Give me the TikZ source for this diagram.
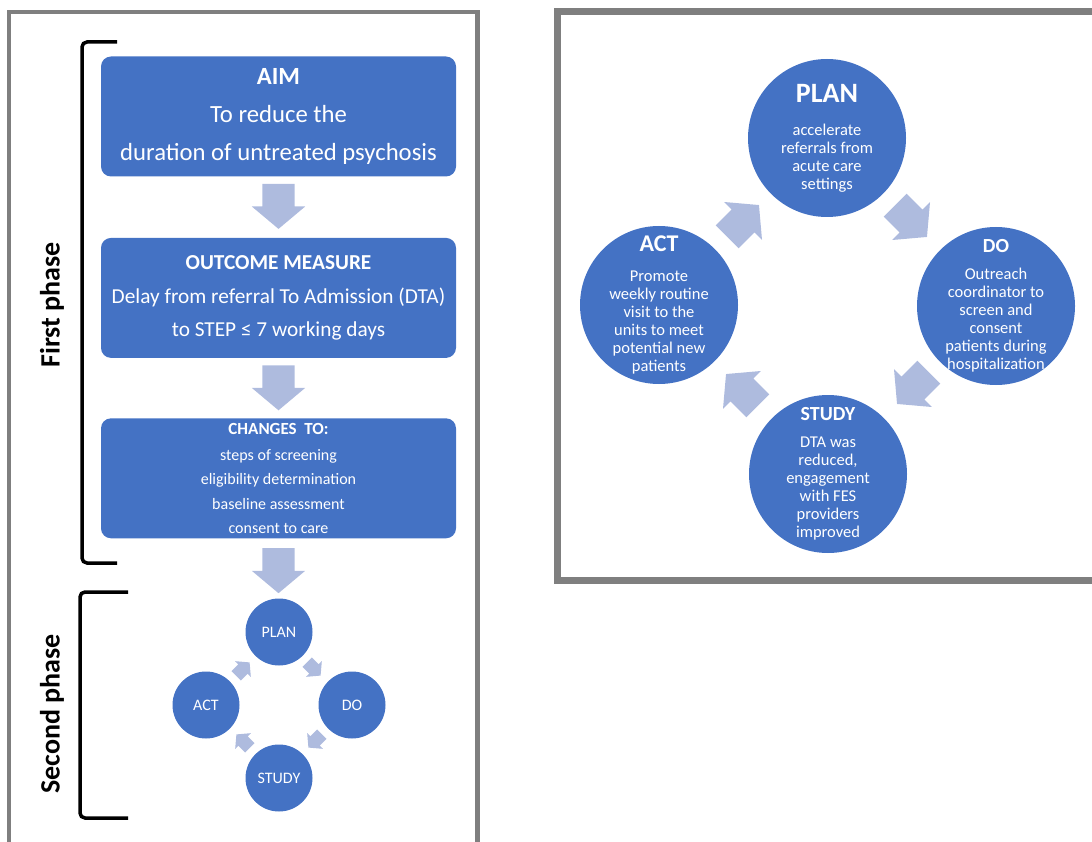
\documentclass[tikz,border=0pt]{standalone}
\usepackage{fontspec}
\setmainfont{Carlito}
\usetikzlibrary{shapes.arrows, positioning, calc}
\definecolor{boxblue}{RGB}{68,114,196}
\definecolor{arrowblue}{RGB}{174,187,222}
\definecolor{framegray}{RGB}{127,127,127}
\def \DUP {duration of untreated psychosis}

\begin{document}
\begin{tikzpicture}[
	  x=1pt, y=-1pt,
	  frame/.style={draw=framegray, line width=4.5pt},
	  bracket/.style={draw=black, line width=3.5pt, rounded corners=5pt},
	  phase/.style={rotate=90, font=\fontsize{28}{30}\selectfont\bfseries},
	  stepbox/.style={
	  	rectangle,
	  	fill=boxblue,
	  	text=white,
	  	rounded corners=10pt,
	  	align=center,
	  	minimum width=355pt,
	  	minimum height=120pt,
	  	inner sep=0pt
	  },
	  flowarrow/.style={
		  single arrow,
		  fill=arrowblue,
		  anchor=tail,
		  inner xsep=0pt,
		  inner ysep=16pt,
		  minimum height=45pt,
		  single arrow head extend=10.5pt,
		  single arrow tip angle=100
	  },
	  miniarrow/.style={
		  flowarrow,
		  inner ysep=6.5pt,
		  minimum height=19pt,
		  single arrow head extend=4.5pt
	  },
	  minicircle/.style={
		  circle,
		  fill=boxblue,
		  text=white,
		  minimum size=67pt,
		  inner sep=0pt,
		  font=\fontsize{16}{18}\selectfont
	  },
	  cyclecircle/.style={circle, fill=boxblue, minimum size=158pt, inner sep=0pt},
	  cycletext/.style={text=white, align=center, font=\fontsize{16.5}{18}\selectfont}]
	\clip (0,0) rectangle (1092,842);
	% Frames
	\draw[frame] (9,12) rectangle (477.5,900);
	\draw[frame, line width=7pt] (557,11.5) rectangle (1130,580);
	% Phases
	\draw[bracket] (117,42) -- (82,42) -- (82,563) -- (117,563);
	\draw[bracket] (128,592) -- (80,592) -- (80,818) -- (128,818);
	\node[phase] (first) at (52,305) {First phase};
	\node[phase] (second) at (52,714) {Second phase};
	% First phase boxes
	\node[stepbox, font=\fontsize{24.7}{38}\selectfont] (aim) at (278.5,116.5)
		{\textbf{AIM}\\To reduce the\\\DUP};
	\node[stepbox, font=\fontsize{21.3}{33.5}\selectfont, below=61pt of aim] (outcome)
		{\textbf{OUTCOME MEASURE}\\Delay from referral To Admission (DTA)\\to STEP ≤ 7 working days};
	\node[stepbox, font=\fontsize{16}{24.5}\selectfont, below=60pt of outcome] (changes)
		{{\fontsize{17}{24.5}\selectfont\bfseries CHANGES~~TO:}\\[1.5pt]steps of screening\\eligibility determination\\baseline assessment\\consent to care};
	\node[flowarrow, rotate=-90] (arrow1) at ([yshift=-7pt]aim.south) {};
	\node[flowarrow, rotate=-90] (arrow2) at ([yshift=-7pt]outcome.south) {};
	\node[flowarrow, rotate=-90] (arrow3) at ([yshift=-9.5pt]changes.south) {};
	% Second phase cycle
	\coordinate (mini) at (279,705);
	\node[minicircle] (miniplan) at ($(mini)+(0,-73)$) {PLAN};
	\node[minicircle] (minido) at ($(mini)+(73,0)$) {DO};
	\node[minicircle] (ministudy) at ($(mini)+(0,73)$) {STUDY};
	\node[minicircle] (miniact) at ($(mini)+(-73,0)$) {ACT};
	\node[miniarrow, rotate=-45] (miniplando) at ($(mini)+(28,-43)$) {};
	\node[miniarrow, rotate=-135] (minidostudy) at ($(mini)+(43,29)$) {};
	\node[miniarrow, rotate=135] (ministudyact) at ($(mini)+(-29,43)$) {};
	\node[miniarrow, rotate=45] (miniactplan) at ($(mini)+(-43,-29)$) {};
	% PDSA cycle
	\coordinate (cycle) at (827,306);
	\node[cyclecircle] (plan) at ($(cycle)+(0,-168)$) {};
	\node[cyclecircle] (dostep) at ($(cycle)+(169,0)$) {};
	\node[cyclecircle] (study) at ($(cycle)+(1,168)$) {};
	\node[cyclecircle] (act) at ($(cycle)+(-168,-1)$) {};
	\node[cycletext] (plantext) at (plan)
		{{\fontsize{28}{28}\selectfont\bfseries PLAN}\\[15pt]accelerate\\referrals from\\acute care\\settings};
	\node[cycletext] (dotext) at (dostep)
		{{\fontsize{20}{20}\selectfont\bfseries DO}\\[8.5pt]Outreach\\coordinator to\\screen and\\consent\\patients during\\hospitalization};
	\node[cycletext] (studytext) at (study)
		{{\fontsize{20}{20}\selectfont\bfseries STUDY}\\[9.5pt]DTA was\\reduced,\\engagement\\with FES\\providers\\improved};
	\node[cycletext] (acttext) at (act)
		{{\fontsize{24}{24}\selectfont\bfseries ACT}\\[12.5pt]Promote\\weekly routine\\visit to the\\units to meet\\potential new\\patients};
	\node[flowarrow, rotate=45] (actplan) at ($(cycle)+(-100,-69)$) {};
	\node[flowarrow, rotate=-45] (plando) at ($(cycle)+(68,-101)$) {};
	\node[flowarrow, rotate=-135] (dostudy) at ($(cycle)+(102,66)$) {};
	\node[flowarrow, rotate=135] (studyact) at ($(cycle)+(-69,100)$) {};
\end{tikzpicture}
\end{document}
